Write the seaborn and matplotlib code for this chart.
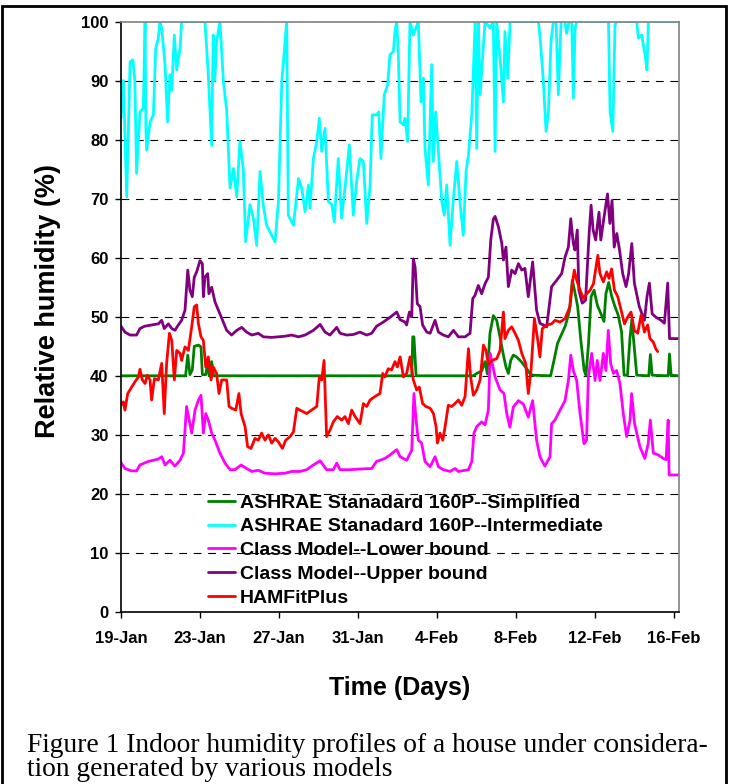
import matplotlib
matplotlib.use("Agg")
import matplotlib.pyplot as plt
from matplotlib.patches import Rectangle
import seaborn as sns

# days counted from 19-Jan, values are relative humidity in %
x_ticks = [0, 4, 8, 12, 16, 20, 24, 28]
x_tick_labels = ["19-Jan", "23-Jan", "27-Jan", "31-Jan", "4-Feb", "8-Feb", "12-Feb", "16-Feb"]
y_ticks = [0, 10, 20, 30, 40, 50, 60, 70, 80, 90, 100]

simplified_days = [0, 3.27, 3.38, 3.49, 3.61, 3.71, 3.92, 4.05, 4.12, 4.3, 4.39, 4.47, 4.59, 4.69,
                   14.72, 14.77, 14.83, 14.94, 17.84, 18.01, 18.26, 18.43, 18.55, 18.68, 18.85, 19.02,
                   19.19, 19.36, 19.49, 19.61, 19.73, 19.86, 20.03, 20.29, 20.54, 20.7, 20.84, 21.75,
                   21.92, 22.1, 22.3, 22.5, 22.7, 22.85, 23.0, 23.12, 23.28, 23.45, 23.54, 23.66, 23.8,
                   23.95, 24.12, 24.3, 24.45, 24.55, 24.69, 24.84, 25.0, 25.17, 25.34, 25.47, 25.64,
                   25.77, 25.86, 25.98, 26.11, 26.72, 26.8, 26.89, 27.7, 27.77, 27.85, 28.25]
simplified_vals = [40, 40, 43.5, 40.2, 41, 45, 45.2, 44.9, 40.2, 40.2, 42.6, 40, 42.4, 40,
                   40, 46.6, 46.6, 40, 40, 40.4, 40.8, 42.4, 40.3, 47.2, 50.2, 49.4,
                   46.5, 43.5, 41.5, 40.4, 42.6, 43.5, 43.2, 42.3, 41.2, 40.4, 40.1, 40,
                   42.6, 45.5, 47, 48.5, 51, 56.2, 53.8, 51.7, 46, 40.9, 40.1, 45, 53.4,
                   54.5, 51.9, 50.5, 49.2, 53.9, 55.8, 53.5, 51.8, 50.3, 47.5, 40.1, 40.1,
                   46.5, 49.5, 45, 40.1, 40, 43.6, 40.1, 40, 43.7, 40.1, 40]

intermediate_days = [0, 0.12, 0.29, 0.46, 0.6, 0.7, 0.79, 0.96, 1.13, 1.22, 1.26, 1.3, 1.47, 1.64,
                     1.76, 1.89, 1.97, 2.06, 2.23, 2.36, 2.48, 2.57, 2.7, 2.82, 2.99, 3.07, 4.25,
                     4.42, 4.59, 4.67, 4.75, 4.84, 5.01, 5.18, 5.35, 5.52, 5.69, 5.86, 6.02, 6.19,
                     6.31, 6.53, 6.7, 6.87, 7.04, 7.2, 7.37, 7.63, 7.8, 7.97, 8.14, 8.39, 8.47,
                     8.73, 8.99, 9.15, 9.32, 9.49, 9.57, 9.74, 9.91, 10.04, 10.16, 10.33, 10.5,
                     10.67, 10.8, 11.0, 11.17, 11.34, 11.56, 11.76, 11.93, 12.1, 12.27, 12.44,
                     12.61, 12.72, 12.94, 13.05, 13.16, 13.33, 13.5, 13.62, 13.79, 13.87, 13.96,
                     14.04, 14.13, 14.3, 14.38, 14.51, 14.63, 14.8, 15.05, 15.19, 15.31, 15.39,
                     15.56, 15.73, 15.81, 15.93, 16.07, 16.24, 16.37, 16.49, 16.66, 16.83, 17.0,
                     17.16, 17.33, 17.47, 17.59, 17.76, 17.93, 18.01, 18.09, 18.18, 18.35, 18.43,
                     18.68, 18.85, 18.94, 19.02, 19.19, 19.36, 19.44, 19.58, 19.7, 21.13, 21.22,
                     21.38, 21.52, 21.64, 21.77, 21.89, 22.03, 22.14, 22.28, 22.47, 22.56, 22.68,
                     22.82, 22.9, 22.99, 23.07, 24.68, 24.76, 24.9, 25.01, 25.1, 26.11, 26.19,
                     26.36, 26.53, 26.63, 26.7, 28.25]
intermediate_vals = [83.6, 90, 70.3, 93.2, 93.5, 90, 74.3, 84.7, 85.3, 100, 82, 78.2, 83, 84.2,
                     95.5, 97.2, 100, 98.9, 92.7, 83, 91, 88.4, 97.7, 91.8, 95.5, 100, 100,
                     91, 79, 97.7, 90, 96.6, 100, 90, 85, 71.8, 75.1, 70.3, 79.7, 75.1,
                     62.7, 69, 66.7, 62.1, 74.6, 69, 65.5, 63.8, 62.7, 69.5, 89.8, 100, 67.2,
                     65.5, 73.4, 71.8, 67.8, 72.3, 68.4, 76.8, 79.7, 83.6, 78, 81.9, 69.5,
                     69, 66.1, 76.8, 66.7, 71.8, 79.1, 67.2, 72.9, 76.8, 76.3, 65.8,
                     72.3, 84.2, 84.2, 84.7, 76.8, 87.6, 89.3, 94.4, 94.9, 98.3, 100,
                     94.4, 83, 82.5, 83.6, 79.7, 100, 97.7, 100, 86.4, 90.4, 78.5,
                     72.3, 92.7, 76.3, 84.7, 78, 69.5, 67.2, 72.3, 62.1, 70.1, 76.3,
                     69.5, 63.8, 74.6, 77.4, 84.2, 100, 78.5, 100, 87.6, 96, 100,
                     98.9, 100, 78, 100, 93.8, 86.4, 98.3, 90.4, 100, 100, 97.2,
                     90, 81.4, 84.7, 96.6, 100, 100, 87.6, 100, 100, 98, 100,
                     100, 87, 98.9, 100, 100, 84.7, 81.4, 99.4, 100, 100, 97.2,
                     97.7, 94.4, 91.8, 100, 100]

lower_days = [0, 0.2, 0.54, 0.79, 0.96, 1.38, 1.89, 2.06, 2.23, 2.48, 2.73, 2.99, 3.16, 3.32,
              3.58, 3.75, 3.92, 4.05, 4.17, 4.29, 4.42, 4.59, 4.76, 5.01, 5.27, 5.52, 5.77, 6.08,
              6.36, 6.62, 6.95, 7.29, 7.8, 8.3, 8.64, 9.06, 9.4, 9.74, 10.08, 10.41, 10.75,
              10.92, 11.09, 11.6, 12.02, 12.69, 12.94, 13.36, 13.62, 13.96, 14.13, 14.46, 14.72,
              14.83, 14.94, 15.05, 15.22, 15.39, 15.65, 15.9, 16.07, 16.32, 16.66, 16.91, 17.08,
              17.59, 17.76, 17.87, 18.01, 18.26, 18.43, 18.6, 18.69, 18.94, 19.19, 19.39, 19.53,
              19.69, 19.86, 20.12, 20.37, 20.62, 20.84, 21.04, 21.21, 21.46, 21.72, 21.8, 21.97,
              22.23, 22.48, 22.65, 22.77, 22.9, 23.07, 23.24, 23.44, 23.57, 23.66, 23.83, 24.0,
              24.11, 24.25, 24.42, 24.55, 24.67, 24.79, 24.93, 25.09, 25.26, 25.43, 25.6, 25.77,
              25.85, 26.0, 26.27, 26.52, 26.69, 26.8, 26.95, 27.2, 27.45, 27.6, 27.7, 27.75, 28.25]
lower_vals = [25.3, 24.3, 23.9, 23.9, 24.9, 25.5, 25.9, 26.3, 24.9, 25.7, 24.7, 25.7, 26.9, 34.8,
              30.3, 34.2, 35.9, 36.7, 30.3, 33.6, 32.5, 30.3, 29.1, 26.9, 25.2, 24.1, 24.1, 24.9,
              24.3, 23.8, 24, 23.5, 23.4, 23.5, 23.8, 23.8, 24.1, 24.9, 25.6, 24.1, 24.1,
              25.2, 24.1, 24.1, 24.2, 24.3, 25.5, 26, 26.6, 27.5, 26.3, 25.7, 27.4,
              37, 32.5, 29.1, 28.6, 25.5, 24.6, 26.3, 24.6, 24.1, 23.8, 24.3, 23.8,
              24.1, 25.5, 30.3, 31.4, 32.2, 31.7, 34.2, 43.8, 39.8, 37.6, 37, 33.6,
              31.3, 34.7, 35.8, 35.2, 33, 35.8, 29.1, 26.3, 24.7, 26.3, 31.9, 32.5,
              34.2, 35.8, 39.2, 43.5, 40.9, 39.2, 33.6, 28.5, 29.1, 39.8, 43.8, 39.2,
              42.6, 39.2, 43.8, 40.9, 47.7, 42.1, 40.4, 40.9, 38.7, 33.6, 29.7, 32.5,
              37, 31.9, 28, 26, 28.5, 32.5, 26.9, 26.6, 26, 25.8, 32.5, 23.2, 23.2]

upper_days = [0, 0.2, 0.46, 0.79, 0.96, 1.2, 1.55, 1.89, 2.06, 2.19, 2.4, 2.57, 2.73, 2.9, 3.07,
              3.24, 3.38, 3.49, 3.61, 3.71, 3.83, 4.0, 4.12, 4.17, 4.25, 4.39, 4.45, 4.59, 4.76,
              5.01, 5.18, 5.35, 5.6, 5.86, 6.11, 6.36, 6.62, 6.95, 7.21, 7.63, 7.97, 8.3, 8.64,
              8.98, 9.32, 9.74, 10.08, 10.33, 10.58, 10.92, 11.09, 11.43, 11.77, 12.1, 12.44,
              12.69, 12.94, 13.28, 13.62, 13.96, 14.13, 14.38, 14.46, 14.6, 14.72, 14.8, 14.89,
              15.0, 15.14, 15.27, 15.48, 15.65, 15.9, 16.07, 16.32, 16.57, 16.83, 17.08, 17.42,
              17.67, 17.81, 17.92, 18.09, 18.26, 18.43, 18.6, 18.72, 18.85, 18.94, 19.11, 19.28,
              19.36, 19.49, 19.61, 19.78, 19.95, 20.12, 20.29, 20.45, 20.62, 20.84, 21.04, 21.21,
              21.55, 21.8, 22.06, 22.31, 22.48, 22.65, 22.77, 22.9, 22.98, 23.1, 23.18, 23.35,
              23.52, 23.7, 23.8, 23.9, 24.03, 24.2, 24.29, 24.46, 24.63, 24.75, 24.86, 24.97,
              25.1, 25.24, 25.4, 25.57, 25.7, 25.86, 25.99, 26.24, 26.5, 26.63, 26.75, 26.89,
              27.09, 27.34, 27.51, 27.68, 27.77, 28.25]
upper_vals = [48.4, 47.4, 46.9, 46.9, 48, 48.4, 48.6, 48.8, 49.4, 48, 48.8, 48, 47.7, 48.6, 49.4,
              51.1, 57.9, 54.5, 53.4, 56.7, 57.6, 59.5, 59, 53.4, 56.7, 57.3, 53.9, 55, 52.5,
              50.5, 49.1, 47.7, 46.9, 47.7, 48.2, 47.4, 46.9, 47.2, 46.6, 46.5, 46.6, 46.7, 46.9,
              46.6, 46.9, 47.7, 48.7, 47.4, 46.9, 48.2, 47.2, 46.9, 47, 47.4, 46.9,
              47.2, 48.4, 49.1, 49.9, 50.8, 49.5, 49.1, 48.6, 50.8, 50, 59.8, 58.4,
              52.2, 51.7, 48.6, 47.4, 47.2, 49.4, 47.4, 46.9, 46.6, 47.7, 46.6, 46.6,
              47.2, 53.1, 53.6, 55.3, 53.9, 55.6, 56.7, 63, 66.5, 67, 65.2, 62.4,
              59.6, 61.8, 55.1, 57.9, 57.3, 59, 57.9, 58.2, 53.4, 59.3, 51.1, 48.9,
              48.3, 55.1, 56.2, 57.3, 60.1, 61.8, 66.6, 62.4, 61.3, 64.7, 54.5, 52.3,
              52.8, 64.1, 68.9, 64.7, 63, 67.7, 63, 67, 70.8, 65.8, 69.7, 61.8,
              64.1, 61.3, 57.3, 55.1, 57.3, 62.4, 55.7, 51.7, 49.4, 53.4, 55.7, 50.5,
              49.9, 49.4, 48.9, 55.7, 46.3, 46.3]

hamfit_days = [0, 0.12, 0.2, 0.34, 0.54, 0.71, 0.88, 0.96, 1.08, 1.22, 1.33, 1.47, 1.55, 1.69,
               1.89, 2.06, 2.19, 2.31, 2.45, 2.57, 2.7, 2.82, 2.99, 3.07, 3.24, 3.41, 3.58, 3.71,
               3.83, 3.92, 4.05, 4.17, 4.29, 4.42, 4.56, 4.67, 4.84, 4.96, 5.1, 5.35, 5.47, 5.6,
               5.81, 5.97, 6.08, 6.28, 6.41, 6.58, 6.78, 6.95, 7.12, 7.29, 7.46, 7.63, 7.8, 7.97,
               8.17, 8.34, 8.56, 8.73, 8.9, 9.06, 9.4, 9.65, 9.91, 10.04, 10.16, 10.28, 10.41,
               10.58, 10.75, 10.95, 11.17, 11.34, 11.51, 11.68, 11.85, 12.1, 12.27, 12.44, 12.61,
               12.86, 13.11, 13.25, 13.36, 13.53, 13.7, 13.87, 13.99, 14.13, 14.3, 14.46, 14.63,
               14.8, 14.97, 15.1, 15.27, 15.44, 15.65, 15.82, 15.95, 16.02, 16.15, 16.29, 16.41,
               16.57, 16.74, 16.91, 17.08, 17.25, 17.42, 17.59, 17.7, 17.84, 18.01, 18.18, 18.35,
               18.48, 18.6, 18.77, 19.02, 19.19, 19.36, 19.44, 19.61, 19.78, 19.95, 20.12, 20.29,
               20.49, 20.62, 20.76, 20.93, 21.1, 21.21, 21.33, 21.55, 21.8, 21.97, 22.23, 22.48,
               22.73, 22.85, 22.95, 23.07, 23.24, 23.41, 23.58, 23.75, 23.92, 24.14, 24.25, 24.42,
               24.59, 24.71, 24.84, 24.98, 25.15, 25.32, 25.49, 25.66, 25.82, 25.99, 26.16, 26.33,
               26.5, 26.66, 26.78, 26.95, 27.07, 27.17]
hamfit_vals = [35, 35.6, 34.2, 37, 38.1, 39, 39.8, 41.1, 39.3, 38.7, 40.1, 39.3, 35.9, 39.5,
               39.3, 42.1, 33.6, 42.1, 47.2, 46, 39.3, 44.3, 43.8, 42.6, 44.9, 44.3, 48.3, 51.7,
               52, 48.8, 46.6, 46, 41.5, 43.2, 39.3, 41.5, 40.4, 37, 39.3, 39.3, 34.8, 34.5,
               34.2, 37, 33.6, 31.4, 28, 27.7, 29.4, 29.1, 30.3, 29.1, 30, 28.6, 29.4, 28.8,
               27.7, 29.1, 29.7, 30.5, 34.5, 34.2, 33.6, 34.2, 34.8, 39.8, 39.3, 42.6, 29.7,
               30.8, 32.2, 33.1, 32.5, 33.1, 31.9, 34.2, 33.1, 31.9, 35.3, 34.8, 35.9,
               36.5, 37, 40.4, 39.8, 41.2, 41, 42.4, 41.5, 43.2, 39.8, 40.4, 43.2,
               39.3, 37.6, 38.1, 35.3, 34.8, 34.5, 33.6, 31.4, 28.6, 30.3, 29.1, 31.4,
               35, 34.8, 35.3, 35.9, 35, 36.5, 44.6, 39.8, 36.7, 37.6, 39.3, 45.2,
               44.3, 41.9, 42.6, 42.9, 44.3, 50.8, 46.3, 47.7, 48.3, 47.2, 46, 43.8,
               42.1, 37, 41, 49.7, 46, 43.2, 48, 48.6, 48.8, 49.4, 49.1, 49.7,
               51.7, 55.6, 57.9, 56.2, 54.5, 53.1, 53.9, 54.5, 55.6, 60.4, 57.3, 55.9,
               57.6, 56.5, 58.1, 54.5, 53.4, 51.1, 48.8, 50, 50.8, 47.7, 47.2, 50.3,
               47.4, 48.6, 46.3, 45.7, 44.6, 44.1]

series = [
    ("ASHRAE Stanadard 160P--Simplified", simplified_days, simplified_vals, "#008000"),
    ("ASHRAE Stanadard 160P--Intermediate", intermediate_days, intermediate_vals, "#00FFFF"),
    ("Class Model--Lower bound", lower_days, lower_vals, "#FF00FF"),
    ("Class Model--Upper bound", upper_days, upper_vals, "#800080"),
    ("HAMFitPlus", hamfit_days, hamfit_vals, "#FF0000"),
]

sns.set_theme(style="white")
plt.rcParams["font.family"] = ["Liberation Sans", "DejaVu Sans"]
plt.rcParams["font.weight"] = "bold"
plt.rcParams["text.color"] = "black"
plt.rcParams["axes.labelcolor"] = "black"
plt.rcParams["xtick.color"] = "black"
plt.rcParams["ytick.color"] = "black"

fig = plt.figure(figsize=(7.29, 7.84), dpi=100)
ax = fig.add_axes([121 / 729, 1 - 612 / 784, 558 / 729, 590.5 / 784])

# dashed horizontal grid lines
for v in y_ticks[1:-1]:
    ax.axhline(v, color="black", lw=0.8, ls=(0, (7, 6)), zorder=0.5)

for name, d, v, c in series:
    sns.lineplot(x=d, y=v, ax=ax, color=c, linewidth=2.0, label=name,
                 estimator=None, sort=False)

ax.set_xlim(0, 28.25)
ax.set_ylim(0, 100)
ax.set_xticks(x_ticks)
ax.set_xticklabels(x_tick_labels)
ax.set_yticks(y_ticks)
ax.tick_params(axis="both", direction="out", length=4, width=1, color="black",
               labelcolor="black", labelsize=12, bottom=True, left=True)
ax.tick_params(axis="x", pad=10)
ax.tick_params(axis="y", pad=5)

for side in ["left", "bottom"]:
    ax.spines[side].set_color("black")
    ax.spines[side].set_linewidth(1.2)
for side in ["top", "right"]:
    ax.spines[side].set_color("#808080")
    ax.spines[side].set_linewidth(1.2)

ax.set_ylabel("Relative humidity (%)", fontsize=19.5, fontweight="bold", va="center")
ax.yaxis.set_label_coords(-0.131, 0.527)
ax.set_xlabel("Time (Days)", fontsize=18, fontweight="bold", va="center")
ax.xaxis.set_label_coords(0.5, -0.129)

ax.legend(loc="upper left", bbox_to_anchor=(0.156, 0.2), frameon=False, fontsize=14,
          handlelength=1.4, handletextpad=0.25, labelspacing=0.32, borderpad=0,
          borderaxespad=0)

fig.text(27 / 729, 1 - 745 / 784,
         "Figure 1 Indoor humidity profiles of a house under considera-",
         family="Liberation Serif", fontsize=19.8, fontweight="normal", va="center")
fig.text(27 / 729, 1 - 770 / 784, "tion generated by various models",
         family="Liberation Serif", fontsize=19.8, fontweight="normal", va="center")

fig.add_artist(Rectangle((2 / 729, -0.01), 724 / 729, 0.01 + (784 - 5.5) / 784,
                         transform=fig.transFigure, fill=False, lw=2, ec="black"))

fig.savefig("out.png", dpi=100)
plt.close()
